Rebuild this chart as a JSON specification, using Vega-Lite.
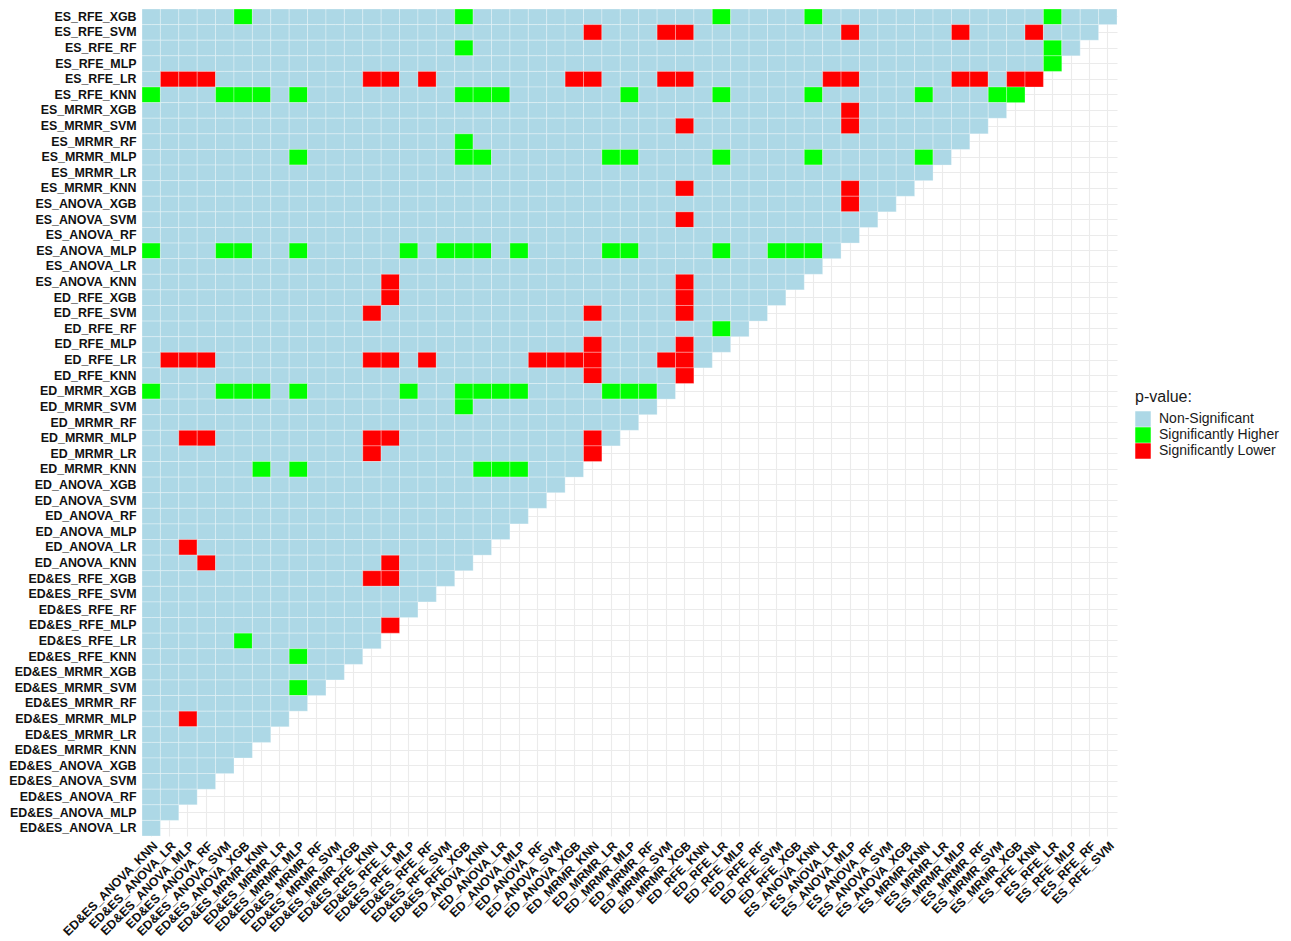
{"$schema":"https://vega.github.io/schema/vega-lite/v6.json","width":975,"height":827,"autosize":"none","padding":{"left":142,"top":9,"right":174,"bottom":105},"background":"white","config":{"view":{"stroke":null},"font":"Liberation Sans"},
"datasets":{
"models":[{"k":0,"name":"ED&ES_ANOVA_KNN"},{"k":1,"name":"ED&ES_ANOVA_LR"},{"k":2,"name":"ED&ES_ANOVA_MLP"},{"k":3,"name":"ED&ES_ANOVA_RF"},{"k":4,"name":"ED&ES_ANOVA_SVM"},{"k":5,"name":"ED&ES_ANOVA_XGB"},{"k":6,"name":"ED&ES_MRMR_KNN"},{"k":7,"name":"ED&ES_MRMR_LR"},{"k":8,"name":"ED&ES_MRMR_MLP"},{"k":9,"name":"ED&ES_MRMR_RF"},{"k":10,"name":"ED&ES_MRMR_SVM"},{"k":11,"name":"ED&ES_MRMR_XGB"},{"k":12,"name":"ED&ES_RFE_KNN"},{"k":13,"name":"ED&ES_RFE_LR"},{"k":14,"name":"ED&ES_RFE_MLP"},{"k":15,"name":"ED&ES_RFE_RF"},{"k":16,"name":"ED&ES_RFE_SVM"},{"k":17,"name":"ED&ES_RFE_XGB"},{"k":18,"name":"ED_ANOVA_KNN"},{"k":19,"name":"ED_ANOVA_LR"},{"k":20,"name":"ED_ANOVA_MLP"},{"k":21,"name":"ED_ANOVA_RF"},{"k":22,"name":"ED_ANOVA_SVM"},{"k":23,"name":"ED_ANOVA_XGB"},{"k":24,"name":"ED_MRMR_KNN"},{"k":25,"name":"ED_MRMR_LR"},{"k":26,"name":"ED_MRMR_MLP"},{"k":27,"name":"ED_MRMR_RF"},{"k":28,"name":"ED_MRMR_SVM"},{"k":29,"name":"ED_MRMR_XGB"},{"k":30,"name":"ED_RFE_KNN"},{"k":31,"name":"ED_RFE_LR"},{"k":32,"name":"ED_RFE_MLP"},{"k":33,"name":"ED_RFE_RF"},{"k":34,"name":"ED_RFE_SVM"},{"k":35,"name":"ED_RFE_XGB"},{"k":36,"name":"ES_ANOVA_KNN"},{"k":37,"name":"ES_ANOVA_LR"},{"k":38,"name":"ES_ANOVA_MLP"},{"k":39,"name":"ES_ANOVA_RF"},{"k":40,"name":"ES_ANOVA_SVM"},{"k":41,"name":"ES_ANOVA_XGB"},{"k":42,"name":"ES_MRMR_KNN"},{"k":43,"name":"ES_MRMR_LR"},{"k":44,"name":"ES_MRMR_MLP"},{"k":45,"name":"ES_MRMR_RF"},{"k":46,"name":"ES_MRMR_SVM"},{"k":47,"name":"ES_MRMR_XGB"},{"k":48,"name":"ES_RFE_KNN"},{"k":49,"name":"ES_RFE_LR"},{"k":50,"name":"ES_RFE_MLP"},{"k":51,"name":"ES_RFE_RF"},{"k":52,"name":"ES_RFE_SVM"},{"k":53,"name":"ES_RFE_XGB"}],
"levels":[{"p":"N","pvalue":"Non-Significant"},{"p":"H","pvalue":"Significantly Higher"},{"p":"L","pvalue":"Significantly Lower"}],
"cells":[
{"r":53,"c":0,"p":"N"},{"r":53,"c":1,"p":"N"},{"r":53,"c":2,"p":"N"},{"r":53,"c":3,"p":"N"},{"r":53,"c":4,"p":"N"},{"r":53,"c":5,"p":"H"},{"r":53,"c":6,"p":"N"},{"r":53,"c":7,"p":"N"},{"r":53,"c":8,"p":"N"},{"r":53,"c":9,"p":"N"},{"r":53,"c":10,"p":"N"},{"r":53,"c":11,"p":"N"},{"r":53,"c":12,"p":"N"},{"r":53,"c":13,"p":"N"},{"r":53,"c":14,"p":"N"},{"r":53,"c":15,"p":"N"},{"r":53,"c":16,"p":"N"},{"r":53,"c":17,"p":"H"},{"r":53,"c":18,"p":"N"},{"r":53,"c":19,"p":"N"},{"r":53,"c":20,"p":"N"},{"r":53,"c":21,"p":"N"},{"r":53,"c":22,"p":"N"},{"r":53,"c":23,"p":"N"},{"r":53,"c":24,"p":"N"},{"r":53,"c":25,"p":"N"},{"r":53,"c":26,"p":"N"},{"r":53,"c":27,"p":"N"},{"r":53,"c":28,"p":"N"},{"r":53,"c":29,"p":"N"},{"r":53,"c":30,"p":"N"},{"r":53,"c":31,"p":"H"},{"r":53,"c":32,"p":"N"},{"r":53,"c":33,"p":"N"},{"r":53,"c":34,"p":"N"},{"r":53,"c":35,"p":"N"},{"r":53,"c":36,"p":"H"},{"r":53,"c":37,"p":"N"},{"r":53,"c":38,"p":"N"},{"r":53,"c":39,"p":"N"},{"r":53,"c":40,"p":"N"},{"r":53,"c":41,"p":"N"},{"r":53,"c":42,"p":"N"},{"r":53,"c":43,"p":"N"},{"r":53,"c":44,"p":"N"},{"r":53,"c":45,"p":"N"},{"r":53,"c":46,"p":"N"},{"r":53,"c":47,"p":"N"},{"r":53,"c":48,"p":"N"},{"r":53,"c":49,"p":"H"},{"r":53,"c":50,"p":"N"},{"r":53,"c":51,"p":"N"},{"r":53,"c":52,"p":"N"},
{"r":52,"c":0,"p":"N"},{"r":52,"c":1,"p":"N"},{"r":52,"c":2,"p":"N"},{"r":52,"c":3,"p":"N"},{"r":52,"c":4,"p":"N"},{"r":52,"c":5,"p":"N"},{"r":52,"c":6,"p":"N"},{"r":52,"c":7,"p":"N"},{"r":52,"c":8,"p":"N"},{"r":52,"c":9,"p":"N"},{"r":52,"c":10,"p":"N"},{"r":52,"c":11,"p":"N"},{"r":52,"c":12,"p":"N"},{"r":52,"c":13,"p":"N"},{"r":52,"c":14,"p":"N"},{"r":52,"c":15,"p":"N"},{"r":52,"c":16,"p":"N"},{"r":52,"c":17,"p":"N"},{"r":52,"c":18,"p":"N"},{"r":52,"c":19,"p":"N"},{"r":52,"c":20,"p":"N"},{"r":52,"c":21,"p":"N"},{"r":52,"c":22,"p":"N"},{"r":52,"c":23,"p":"N"},{"r":52,"c":24,"p":"L"},{"r":52,"c":25,"p":"N"},{"r":52,"c":26,"p":"N"},{"r":52,"c":27,"p":"N"},{"r":52,"c":28,"p":"L"},{"r":52,"c":29,"p":"L"},{"r":52,"c":30,"p":"N"},{"r":52,"c":31,"p":"N"},{"r":52,"c":32,"p":"N"},{"r":52,"c":33,"p":"N"},{"r":52,"c":34,"p":"N"},{"r":52,"c":35,"p":"N"},{"r":52,"c":36,"p":"N"},{"r":52,"c":37,"p":"N"},{"r":52,"c":38,"p":"L"},{"r":52,"c":39,"p":"N"},{"r":52,"c":40,"p":"N"},{"r":52,"c":41,"p":"N"},{"r":52,"c":42,"p":"N"},{"r":52,"c":43,"p":"N"},{"r":52,"c":44,"p":"L"},{"r":52,"c":45,"p":"N"},{"r":52,"c":46,"p":"N"},{"r":52,"c":47,"p":"N"},{"r":52,"c":48,"p":"L"},{"r":52,"c":49,"p":"N"},{"r":52,"c":50,"p":"N"},{"r":52,"c":51,"p":"N"},
{"r":51,"c":0,"p":"N"},{"r":51,"c":1,"p":"N"},{"r":51,"c":2,"p":"N"},{"r":51,"c":3,"p":"N"},{"r":51,"c":4,"p":"N"},{"r":51,"c":5,"p":"N"},{"r":51,"c":6,"p":"N"},{"r":51,"c":7,"p":"N"},{"r":51,"c":8,"p":"N"},{"r":51,"c":9,"p":"N"},{"r":51,"c":10,"p":"N"},{"r":51,"c":11,"p":"N"},{"r":51,"c":12,"p":"N"},{"r":51,"c":13,"p":"N"},{"r":51,"c":14,"p":"N"},{"r":51,"c":15,"p":"N"},{"r":51,"c":16,"p":"N"},{"r":51,"c":17,"p":"H"},{"r":51,"c":18,"p":"N"},{"r":51,"c":19,"p":"N"},{"r":51,"c":20,"p":"N"},{"r":51,"c":21,"p":"N"},{"r":51,"c":22,"p":"N"},{"r":51,"c":23,"p":"N"},{"r":51,"c":24,"p":"N"},{"r":51,"c":25,"p":"N"},{"r":51,"c":26,"p":"N"},{"r":51,"c":27,"p":"N"},{"r":51,"c":28,"p":"N"},{"r":51,"c":29,"p":"N"},{"r":51,"c":30,"p":"N"},{"r":51,"c":31,"p":"N"},{"r":51,"c":32,"p":"N"},{"r":51,"c":33,"p":"N"},{"r":51,"c":34,"p":"N"},{"r":51,"c":35,"p":"N"},{"r":51,"c":36,"p":"N"},{"r":51,"c":37,"p":"N"},{"r":51,"c":38,"p":"N"},{"r":51,"c":39,"p":"N"},{"r":51,"c":40,"p":"N"},{"r":51,"c":41,"p":"N"},{"r":51,"c":42,"p":"N"},{"r":51,"c":43,"p":"N"},{"r":51,"c":44,"p":"N"},{"r":51,"c":45,"p":"N"},{"r":51,"c":46,"p":"N"},{"r":51,"c":47,"p":"N"},{"r":51,"c":48,"p":"N"},{"r":51,"c":49,"p":"H"},{"r":51,"c":50,"p":"N"},
{"r":50,"c":0,"p":"N"},{"r":50,"c":1,"p":"N"},{"r":50,"c":2,"p":"N"},{"r":50,"c":3,"p":"N"},{"r":50,"c":4,"p":"N"},{"r":50,"c":5,"p":"N"},{"r":50,"c":6,"p":"N"},{"r":50,"c":7,"p":"N"},{"r":50,"c":8,"p":"N"},{"r":50,"c":9,"p":"N"},{"r":50,"c":10,"p":"N"},{"r":50,"c":11,"p":"N"},{"r":50,"c":12,"p":"N"},{"r":50,"c":13,"p":"N"},{"r":50,"c":14,"p":"N"},{"r":50,"c":15,"p":"N"},{"r":50,"c":16,"p":"N"},{"r":50,"c":17,"p":"N"},{"r":50,"c":18,"p":"N"},{"r":50,"c":19,"p":"N"},{"r":50,"c":20,"p":"N"},{"r":50,"c":21,"p":"N"},{"r":50,"c":22,"p":"N"},{"r":50,"c":23,"p":"N"},{"r":50,"c":24,"p":"N"},{"r":50,"c":25,"p":"N"},{"r":50,"c":26,"p":"N"},{"r":50,"c":27,"p":"N"},{"r":50,"c":28,"p":"N"},{"r":50,"c":29,"p":"N"},{"r":50,"c":30,"p":"N"},{"r":50,"c":31,"p":"N"},{"r":50,"c":32,"p":"N"},{"r":50,"c":33,"p":"N"},{"r":50,"c":34,"p":"N"},{"r":50,"c":35,"p":"N"},{"r":50,"c":36,"p":"N"},{"r":50,"c":37,"p":"N"},{"r":50,"c":38,"p":"N"},{"r":50,"c":39,"p":"N"},{"r":50,"c":40,"p":"N"},{"r":50,"c":41,"p":"N"},{"r":50,"c":42,"p":"N"},{"r":50,"c":43,"p":"N"},{"r":50,"c":44,"p":"N"},{"r":50,"c":45,"p":"N"},{"r":50,"c":46,"p":"N"},{"r":50,"c":47,"p":"N"},{"r":50,"c":48,"p":"N"},{"r":50,"c":49,"p":"H"},
{"r":49,"c":0,"p":"N"},{"r":49,"c":1,"p":"L"},{"r":49,"c":2,"p":"L"},{"r":49,"c":3,"p":"L"},{"r":49,"c":4,"p":"N"},{"r":49,"c":5,"p":"N"},{"r":49,"c":6,"p":"N"},{"r":49,"c":7,"p":"N"},{"r":49,"c":8,"p":"N"},{"r":49,"c":9,"p":"N"},{"r":49,"c":10,"p":"N"},{"r":49,"c":11,"p":"N"},{"r":49,"c":12,"p":"L"},{"r":49,"c":13,"p":"L"},{"r":49,"c":14,"p":"N"},{"r":49,"c":15,"p":"L"},{"r":49,"c":16,"p":"N"},{"r":49,"c":17,"p":"N"},{"r":49,"c":18,"p":"N"},{"r":49,"c":19,"p":"N"},{"r":49,"c":20,"p":"N"},{"r":49,"c":21,"p":"N"},{"r":49,"c":22,"p":"N"},{"r":49,"c":23,"p":"L"},{"r":49,"c":24,"p":"L"},{"r":49,"c":25,"p":"N"},{"r":49,"c":26,"p":"N"},{"r":49,"c":27,"p":"N"},{"r":49,"c":28,"p":"L"},{"r":49,"c":29,"p":"L"},{"r":49,"c":30,"p":"N"},{"r":49,"c":31,"p":"N"},{"r":49,"c":32,"p":"N"},{"r":49,"c":33,"p":"N"},{"r":49,"c":34,"p":"N"},{"r":49,"c":35,"p":"N"},{"r":49,"c":36,"p":"N"},{"r":49,"c":37,"p":"L"},{"r":49,"c":38,"p":"L"},{"r":49,"c":39,"p":"N"},{"r":49,"c":40,"p":"N"},{"r":49,"c":41,"p":"N"},{"r":49,"c":42,"p":"N"},{"r":49,"c":43,"p":"N"},{"r":49,"c":44,"p":"L"},{"r":49,"c":45,"p":"L"},{"r":49,"c":46,"p":"N"},{"r":49,"c":47,"p":"L"},{"r":49,"c":48,"p":"L"},
{"r":48,"c":0,"p":"H"},{"r":48,"c":1,"p":"N"},{"r":48,"c":2,"p":"N"},{"r":48,"c":3,"p":"N"},{"r":48,"c":4,"p":"H"},{"r":48,"c":5,"p":"H"},{"r":48,"c":6,"p":"H"},{"r":48,"c":7,"p":"N"},{"r":48,"c":8,"p":"H"},{"r":48,"c":9,"p":"N"},{"r":48,"c":10,"p":"N"},{"r":48,"c":11,"p":"N"},{"r":48,"c":12,"p":"N"},{"r":48,"c":13,"p":"N"},{"r":48,"c":14,"p":"N"},{"r":48,"c":15,"p":"N"},{"r":48,"c":16,"p":"N"},{"r":48,"c":17,"p":"H"},{"r":48,"c":18,"p":"H"},{"r":48,"c":19,"p":"H"},{"r":48,"c":20,"p":"N"},{"r":48,"c":21,"p":"N"},{"r":48,"c":22,"p":"N"},{"r":48,"c":23,"p":"N"},{"r":48,"c":24,"p":"N"},{"r":48,"c":25,"p":"N"},{"r":48,"c":26,"p":"H"},{"r":48,"c":27,"p":"N"},{"r":48,"c":28,"p":"N"},{"r":48,"c":29,"p":"N"},{"r":48,"c":30,"p":"N"},{"r":48,"c":31,"p":"H"},{"r":48,"c":32,"p":"N"},{"r":48,"c":33,"p":"N"},{"r":48,"c":34,"p":"N"},{"r":48,"c":35,"p":"N"},{"r":48,"c":36,"p":"H"},{"r":48,"c":37,"p":"N"},{"r":48,"c":38,"p":"N"},{"r":48,"c":39,"p":"N"},{"r":48,"c":40,"p":"N"},{"r":48,"c":41,"p":"N"},{"r":48,"c":42,"p":"H"},{"r":48,"c":43,"p":"N"},{"r":48,"c":44,"p":"N"},{"r":48,"c":45,"p":"N"},{"r":48,"c":46,"p":"H"},{"r":48,"c":47,"p":"H"},
{"r":47,"c":0,"p":"N"},{"r":47,"c":1,"p":"N"},{"r":47,"c":2,"p":"N"},{"r":47,"c":3,"p":"N"},{"r":47,"c":4,"p":"N"},{"r":47,"c":5,"p":"N"},{"r":47,"c":6,"p":"N"},{"r":47,"c":7,"p":"N"},{"r":47,"c":8,"p":"N"},{"r":47,"c":9,"p":"N"},{"r":47,"c":10,"p":"N"},{"r":47,"c":11,"p":"N"},{"r":47,"c":12,"p":"N"},{"r":47,"c":13,"p":"N"},{"r":47,"c":14,"p":"N"},{"r":47,"c":15,"p":"N"},{"r":47,"c":16,"p":"N"},{"r":47,"c":17,"p":"N"},{"r":47,"c":18,"p":"N"},{"r":47,"c":19,"p":"N"},{"r":47,"c":20,"p":"N"},{"r":47,"c":21,"p":"N"},{"r":47,"c":22,"p":"N"},{"r":47,"c":23,"p":"N"},{"r":47,"c":24,"p":"N"},{"r":47,"c":25,"p":"N"},{"r":47,"c":26,"p":"N"},{"r":47,"c":27,"p":"N"},{"r":47,"c":28,"p":"N"},{"r":47,"c":29,"p":"N"},{"r":47,"c":30,"p":"N"},{"r":47,"c":31,"p":"N"},{"r":47,"c":32,"p":"N"},{"r":47,"c":33,"p":"N"},{"r":47,"c":34,"p":"N"},{"r":47,"c":35,"p":"N"},{"r":47,"c":36,"p":"N"},{"r":47,"c":37,"p":"N"},{"r":47,"c":38,"p":"L"},{"r":47,"c":39,"p":"N"},{"r":47,"c":40,"p":"N"},{"r":47,"c":41,"p":"N"},{"r":47,"c":42,"p":"N"},{"r":47,"c":43,"p":"N"},{"r":47,"c":44,"p":"N"},{"r":47,"c":45,"p":"N"},{"r":47,"c":46,"p":"N"},
{"r":46,"c":0,"p":"N"},{"r":46,"c":1,"p":"N"},{"r":46,"c":2,"p":"N"},{"r":46,"c":3,"p":"N"},{"r":46,"c":4,"p":"N"},{"r":46,"c":5,"p":"N"},{"r":46,"c":6,"p":"N"},{"r":46,"c":7,"p":"N"},{"r":46,"c":8,"p":"N"},{"r":46,"c":9,"p":"N"},{"r":46,"c":10,"p":"N"},{"r":46,"c":11,"p":"N"},{"r":46,"c":12,"p":"N"},{"r":46,"c":13,"p":"N"},{"r":46,"c":14,"p":"N"},{"r":46,"c":15,"p":"N"},{"r":46,"c":16,"p":"N"},{"r":46,"c":17,"p":"N"},{"r":46,"c":18,"p":"N"},{"r":46,"c":19,"p":"N"},{"r":46,"c":20,"p":"N"},{"r":46,"c":21,"p":"N"},{"r":46,"c":22,"p":"N"},{"r":46,"c":23,"p":"N"},{"r":46,"c":24,"p":"N"},{"r":46,"c":25,"p":"N"},{"r":46,"c":26,"p":"N"},{"r":46,"c":27,"p":"N"},{"r":46,"c":28,"p":"N"},{"r":46,"c":29,"p":"L"},{"r":46,"c":30,"p":"N"},{"r":46,"c":31,"p":"N"},{"r":46,"c":32,"p":"N"},{"r":46,"c":33,"p":"N"},{"r":46,"c":34,"p":"N"},{"r":46,"c":35,"p":"N"},{"r":46,"c":36,"p":"N"},{"r":46,"c":37,"p":"N"},{"r":46,"c":38,"p":"L"},{"r":46,"c":39,"p":"N"},{"r":46,"c":40,"p":"N"},{"r":46,"c":41,"p":"N"},{"r":46,"c":42,"p":"N"},{"r":46,"c":43,"p":"N"},{"r":46,"c":44,"p":"N"},{"r":46,"c":45,"p":"N"},
{"r":45,"c":0,"p":"N"},{"r":45,"c":1,"p":"N"},{"r":45,"c":2,"p":"N"},{"r":45,"c":3,"p":"N"},{"r":45,"c":4,"p":"N"},{"r":45,"c":5,"p":"N"},{"r":45,"c":6,"p":"N"},{"r":45,"c":7,"p":"N"},{"r":45,"c":8,"p":"N"},{"r":45,"c":9,"p":"N"},{"r":45,"c":10,"p":"N"},{"r":45,"c":11,"p":"N"},{"r":45,"c":12,"p":"N"},{"r":45,"c":13,"p":"N"},{"r":45,"c":14,"p":"N"},{"r":45,"c":15,"p":"N"},{"r":45,"c":16,"p":"N"},{"r":45,"c":17,"p":"H"},{"r":45,"c":18,"p":"N"},{"r":45,"c":19,"p":"N"},{"r":45,"c":20,"p":"N"},{"r":45,"c":21,"p":"N"},{"r":45,"c":22,"p":"N"},{"r":45,"c":23,"p":"N"},{"r":45,"c":24,"p":"N"},{"r":45,"c":25,"p":"N"},{"r":45,"c":26,"p":"N"},{"r":45,"c":27,"p":"N"},{"r":45,"c":28,"p":"N"},{"r":45,"c":29,"p":"N"},{"r":45,"c":30,"p":"N"},{"r":45,"c":31,"p":"N"},{"r":45,"c":32,"p":"N"},{"r":45,"c":33,"p":"N"},{"r":45,"c":34,"p":"N"},{"r":45,"c":35,"p":"N"},{"r":45,"c":36,"p":"N"},{"r":45,"c":37,"p":"N"},{"r":45,"c":38,"p":"N"},{"r":45,"c":39,"p":"N"},{"r":45,"c":40,"p":"N"},{"r":45,"c":41,"p":"N"},{"r":45,"c":42,"p":"N"},{"r":45,"c":43,"p":"N"},{"r":45,"c":44,"p":"N"},
{"r":44,"c":0,"p":"N"},{"r":44,"c":1,"p":"N"},{"r":44,"c":2,"p":"N"},{"r":44,"c":3,"p":"N"},{"r":44,"c":4,"p":"N"},{"r":44,"c":5,"p":"N"},{"r":44,"c":6,"p":"N"},{"r":44,"c":7,"p":"N"},{"r":44,"c":8,"p":"H"},{"r":44,"c":9,"p":"N"},{"r":44,"c":10,"p":"N"},{"r":44,"c":11,"p":"N"},{"r":44,"c":12,"p":"N"},{"r":44,"c":13,"p":"N"},{"r":44,"c":14,"p":"N"},{"r":44,"c":15,"p":"N"},{"r":44,"c":16,"p":"N"},{"r":44,"c":17,"p":"H"},{"r":44,"c":18,"p":"H"},{"r":44,"c":19,"p":"N"},{"r":44,"c":20,"p":"N"},{"r":44,"c":21,"p":"N"},{"r":44,"c":22,"p":"N"},{"r":44,"c":23,"p":"N"},{"r":44,"c":24,"p":"N"},{"r":44,"c":25,"p":"H"},{"r":44,"c":26,"p":"H"},{"r":44,"c":27,"p":"N"},{"r":44,"c":28,"p":"N"},{"r":44,"c":29,"p":"N"},{"r":44,"c":30,"p":"N"},{"r":44,"c":31,"p":"H"},{"r":44,"c":32,"p":"N"},{"r":44,"c":33,"p":"N"},{"r":44,"c":34,"p":"N"},{"r":44,"c":35,"p":"N"},{"r":44,"c":36,"p":"H"},{"r":44,"c":37,"p":"N"},{"r":44,"c":38,"p":"N"},{"r":44,"c":39,"p":"N"},{"r":44,"c":40,"p":"N"},{"r":44,"c":41,"p":"N"},{"r":44,"c":42,"p":"H"},{"r":44,"c":43,"p":"N"},
{"r":43,"c":0,"p":"N"},{"r":43,"c":1,"p":"N"},{"r":43,"c":2,"p":"N"},{"r":43,"c":3,"p":"N"},{"r":43,"c":4,"p":"N"},{"r":43,"c":5,"p":"N"},{"r":43,"c":6,"p":"N"},{"r":43,"c":7,"p":"N"},{"r":43,"c":8,"p":"N"},{"r":43,"c":9,"p":"N"},{"r":43,"c":10,"p":"N"},{"r":43,"c":11,"p":"N"},{"r":43,"c":12,"p":"N"},{"r":43,"c":13,"p":"N"},{"r":43,"c":14,"p":"N"},{"r":43,"c":15,"p":"N"},{"r":43,"c":16,"p":"N"},{"r":43,"c":17,"p":"N"},{"r":43,"c":18,"p":"N"},{"r":43,"c":19,"p":"N"},{"r":43,"c":20,"p":"N"},{"r":43,"c":21,"p":"N"},{"r":43,"c":22,"p":"N"},{"r":43,"c":23,"p":"N"},{"r":43,"c":24,"p":"N"},{"r":43,"c":25,"p":"N"},{"r":43,"c":26,"p":"N"},{"r":43,"c":27,"p":"N"},{"r":43,"c":28,"p":"N"},{"r":43,"c":29,"p":"N"},{"r":43,"c":30,"p":"N"},{"r":43,"c":31,"p":"N"},{"r":43,"c":32,"p":"N"},{"r":43,"c":33,"p":"N"},{"r":43,"c":34,"p":"N"},{"r":43,"c":35,"p":"N"},{"r":43,"c":36,"p":"N"},{"r":43,"c":37,"p":"N"},{"r":43,"c":38,"p":"N"},{"r":43,"c":39,"p":"N"},{"r":43,"c":40,"p":"N"},{"r":43,"c":41,"p":"N"},{"r":43,"c":42,"p":"N"},
{"r":42,"c":0,"p":"N"},{"r":42,"c":1,"p":"N"},{"r":42,"c":2,"p":"N"},{"r":42,"c":3,"p":"N"},{"r":42,"c":4,"p":"N"},{"r":42,"c":5,"p":"N"},{"r":42,"c":6,"p":"N"},{"r":42,"c":7,"p":"N"},{"r":42,"c":8,"p":"N"},{"r":42,"c":9,"p":"N"},{"r":42,"c":10,"p":"N"},{"r":42,"c":11,"p":"N"},{"r":42,"c":12,"p":"N"},{"r":42,"c":13,"p":"N"},{"r":42,"c":14,"p":"N"},{"r":42,"c":15,"p":"N"},{"r":42,"c":16,"p":"N"},{"r":42,"c":17,"p":"N"},{"r":42,"c":18,"p":"N"},{"r":42,"c":19,"p":"N"},{"r":42,"c":20,"p":"N"},{"r":42,"c":21,"p":"N"},{"r":42,"c":22,"p":"N"},{"r":42,"c":23,"p":"N"},{"r":42,"c":24,"p":"N"},{"r":42,"c":25,"p":"N"},{"r":42,"c":26,"p":"N"},{"r":42,"c":27,"p":"N"},{"r":42,"c":28,"p":"N"},{"r":42,"c":29,"p":"L"},{"r":42,"c":30,"p":"N"},{"r":42,"c":31,"p":"N"},{"r":42,"c":32,"p":"N"},{"r":42,"c":33,"p":"N"},{"r":42,"c":34,"p":"N"},{"r":42,"c":35,"p":"N"},{"r":42,"c":36,"p":"N"},{"r":42,"c":37,"p":"N"},{"r":42,"c":38,"p":"L"},{"r":42,"c":39,"p":"N"},{"r":42,"c":40,"p":"N"},{"r":42,"c":41,"p":"N"},
{"r":41,"c":0,"p":"N"},{"r":41,"c":1,"p":"N"},{"r":41,"c":2,"p":"N"},{"r":41,"c":3,"p":"N"},{"r":41,"c":4,"p":"N"},{"r":41,"c":5,"p":"N"},{"r":41,"c":6,"p":"N"},{"r":41,"c":7,"p":"N"},{"r":41,"c":8,"p":"N"},{"r":41,"c":9,"p":"N"},{"r":41,"c":10,"p":"N"},{"r":41,"c":11,"p":"N"},{"r":41,"c":12,"p":"N"},{"r":41,"c":13,"p":"N"},{"r":41,"c":14,"p":"N"},{"r":41,"c":15,"p":"N"},{"r":41,"c":16,"p":"N"},{"r":41,"c":17,"p":"N"},{"r":41,"c":18,"p":"N"},{"r":41,"c":19,"p":"N"},{"r":41,"c":20,"p":"N"},{"r":41,"c":21,"p":"N"},{"r":41,"c":22,"p":"N"},{"r":41,"c":23,"p":"N"},{"r":41,"c":24,"p":"N"},{"r":41,"c":25,"p":"N"},{"r":41,"c":26,"p":"N"},{"r":41,"c":27,"p":"N"},{"r":41,"c":28,"p":"N"},{"r":41,"c":29,"p":"N"},{"r":41,"c":30,"p":"N"},{"r":41,"c":31,"p":"N"},{"r":41,"c":32,"p":"N"},{"r":41,"c":33,"p":"N"},{"r":41,"c":34,"p":"N"},{"r":41,"c":35,"p":"N"},{"r":41,"c":36,"p":"N"},{"r":41,"c":37,"p":"N"},{"r":41,"c":38,"p":"L"},{"r":41,"c":39,"p":"N"},{"r":41,"c":40,"p":"N"},
{"r":40,"c":0,"p":"N"},{"r":40,"c":1,"p":"N"},{"r":40,"c":2,"p":"N"},{"r":40,"c":3,"p":"N"},{"r":40,"c":4,"p":"N"},{"r":40,"c":5,"p":"N"},{"r":40,"c":6,"p":"N"},{"r":40,"c":7,"p":"N"},{"r":40,"c":8,"p":"N"},{"r":40,"c":9,"p":"N"},{"r":40,"c":10,"p":"N"},{"r":40,"c":11,"p":"N"},{"r":40,"c":12,"p":"N"},{"r":40,"c":13,"p":"N"},{"r":40,"c":14,"p":"N"},{"r":40,"c":15,"p":"N"},{"r":40,"c":16,"p":"N"},{"r":40,"c":17,"p":"N"},{"r":40,"c":18,"p":"N"},{"r":40,"c":19,"p":"N"},{"r":40,"c":20,"p":"N"},{"r":40,"c":21,"p":"N"},{"r":40,"c":22,"p":"N"},{"r":40,"c":23,"p":"N"},{"r":40,"c":24,"p":"N"},{"r":40,"c":25,"p":"N"},{"r":40,"c":26,"p":"N"},{"r":40,"c":27,"p":"N"},{"r":40,"c":28,"p":"N"},{"r":40,"c":29,"p":"L"},{"r":40,"c":30,"p":"N"},{"r":40,"c":31,"p":"N"},{"r":40,"c":32,"p":"N"},{"r":40,"c":33,"p":"N"},{"r":40,"c":34,"p":"N"},{"r":40,"c":35,"p":"N"},{"r":40,"c":36,"p":"N"},{"r":40,"c":37,"p":"N"},{"r":40,"c":38,"p":"N"},{"r":40,"c":39,"p":"N"},
{"r":39,"c":0,"p":"N"},{"r":39,"c":1,"p":"N"},{"r":39,"c":2,"p":"N"},{"r":39,"c":3,"p":"N"},{"r":39,"c":4,"p":"N"},{"r":39,"c":5,"p":"N"},{"r":39,"c":6,"p":"N"},{"r":39,"c":7,"p":"N"},{"r":39,"c":8,"p":"N"},{"r":39,"c":9,"p":"N"},{"r":39,"c":10,"p":"N"},{"r":39,"c":11,"p":"N"},{"r":39,"c":12,"p":"N"},{"r":39,"c":13,"p":"N"},{"r":39,"c":14,"p":"N"},{"r":39,"c":15,"p":"N"},{"r":39,"c":16,"p":"N"},{"r":39,"c":17,"p":"N"},{"r":39,"c":18,"p":"N"},{"r":39,"c":19,"p":"N"},{"r":39,"c":20,"p":"N"},{"r":39,"c":21,"p":"N"},{"r":39,"c":22,"p":"N"},{"r":39,"c":23,"p":"N"},{"r":39,"c":24,"p":"N"},{"r":39,"c":25,"p":"N"},{"r":39,"c":26,"p":"N"},{"r":39,"c":27,"p":"N"},{"r":39,"c":28,"p":"N"},{"r":39,"c":29,"p":"N"},{"r":39,"c":30,"p":"N"},{"r":39,"c":31,"p":"N"},{"r":39,"c":32,"p":"N"},{"r":39,"c":33,"p":"N"},{"r":39,"c":34,"p":"N"},{"r":39,"c":35,"p":"N"},{"r":39,"c":36,"p":"N"},{"r":39,"c":37,"p":"N"},{"r":39,"c":38,"p":"N"},
{"r":38,"c":0,"p":"H"},{"r":38,"c":1,"p":"N"},{"r":38,"c":2,"p":"N"},{"r":38,"c":3,"p":"N"},{"r":38,"c":4,"p":"H"},{"r":38,"c":5,"p":"H"},{"r":38,"c":6,"p":"N"},{"r":38,"c":7,"p":"N"},{"r":38,"c":8,"p":"H"},{"r":38,"c":9,"p":"N"},{"r":38,"c":10,"p":"N"},{"r":38,"c":11,"p":"N"},{"r":38,"c":12,"p":"N"},{"r":38,"c":13,"p":"N"},{"r":38,"c":14,"p":"H"},{"r":38,"c":15,"p":"N"},{"r":38,"c":16,"p":"H"},{"r":38,"c":17,"p":"H"},{"r":38,"c":18,"p":"H"},{"r":38,"c":19,"p":"N"},{"r":38,"c":20,"p":"H"},{"r":38,"c":21,"p":"N"},{"r":38,"c":22,"p":"N"},{"r":38,"c":23,"p":"N"},{"r":38,"c":24,"p":"N"},{"r":38,"c":25,"p":"H"},{"r":38,"c":26,"p":"H"},{"r":38,"c":27,"p":"N"},{"r":38,"c":28,"p":"N"},{"r":38,"c":29,"p":"N"},{"r":38,"c":30,"p":"N"},{"r":38,"c":31,"p":"H"},{"r":38,"c":32,"p":"N"},{"r":38,"c":33,"p":"N"},{"r":38,"c":34,"p":"H"},{"r":38,"c":35,"p":"H"},{"r":38,"c":36,"p":"H"},{"r":38,"c":37,"p":"N"},
{"r":37,"c":0,"p":"N"},{"r":37,"c":1,"p":"N"},{"r":37,"c":2,"p":"N"},{"r":37,"c":3,"p":"N"},{"r":37,"c":4,"p":"N"},{"r":37,"c":5,"p":"N"},{"r":37,"c":6,"p":"N"},{"r":37,"c":7,"p":"N"},{"r":37,"c":8,"p":"N"},{"r":37,"c":9,"p":"N"},{"r":37,"c":10,"p":"N"},{"r":37,"c":11,"p":"N"},{"r":37,"c":12,"p":"N"},{"r":37,"c":13,"p":"N"},{"r":37,"c":14,"p":"N"},{"r":37,"c":15,"p":"N"},{"r":37,"c":16,"p":"N"},{"r":37,"c":17,"p":"N"},{"r":37,"c":18,"p":"N"},{"r":37,"c":19,"p":"N"},{"r":37,"c":20,"p":"N"},{"r":37,"c":21,"p":"N"},{"r":37,"c":22,"p":"N"},{"r":37,"c":23,"p":"N"},{"r":37,"c":24,"p":"N"},{"r":37,"c":25,"p":"N"},{"r":37,"c":26,"p":"N"},{"r":37,"c":27,"p":"N"},{"r":37,"c":28,"p":"N"},{"r":37,"c":29,"p":"N"},{"r":37,"c":30,"p":"N"},{"r":37,"c":31,"p":"N"},{"r":37,"c":32,"p":"N"},{"r":37,"c":33,"p":"N"},{"r":37,"c":34,"p":"N"},{"r":37,"c":35,"p":"N"},{"r":37,"c":36,"p":"N"},
{"r":36,"c":0,"p":"N"},{"r":36,"c":1,"p":"N"},{"r":36,"c":2,"p":"N"},{"r":36,"c":3,"p":"N"},{"r":36,"c":4,"p":"N"},{"r":36,"c":5,"p":"N"},{"r":36,"c":6,"p":"N"},{"r":36,"c":7,"p":"N"},{"r":36,"c":8,"p":"N"},{"r":36,"c":9,"p":"N"},{"r":36,"c":10,"p":"N"},{"r":36,"c":11,"p":"N"},{"r":36,"c":12,"p":"N"},{"r":36,"c":13,"p":"L"},{"r":36,"c":14,"p":"N"},{"r":36,"c":15,"p":"N"},{"r":36,"c":16,"p":"N"},{"r":36,"c":17,"p":"N"},{"r":36,"c":18,"p":"N"},{"r":36,"c":19,"p":"N"},{"r":36,"c":20,"p":"N"},{"r":36,"c":21,"p":"N"},{"r":36,"c":22,"p":"N"},{"r":36,"c":23,"p":"N"},{"r":36,"c":24,"p":"N"},{"r":36,"c":25,"p":"N"},{"r":36,"c":26,"p":"N"},{"r":36,"c":27,"p":"N"},{"r":36,"c":28,"p":"N"},{"r":36,"c":29,"p":"L"},{"r":36,"c":30,"p":"N"},{"r":36,"c":31,"p":"N"},{"r":36,"c":32,"p":"N"},{"r":36,"c":33,"p":"N"},{"r":36,"c":34,"p":"N"},{"r":36,"c":35,"p":"N"},
{"r":35,"c":0,"p":"N"},{"r":35,"c":1,"p":"N"},{"r":35,"c":2,"p":"N"},{"r":35,"c":3,"p":"N"},{"r":35,"c":4,"p":"N"},{"r":35,"c":5,"p":"N"},{"r":35,"c":6,"p":"N"},{"r":35,"c":7,"p":"N"},{"r":35,"c":8,"p":"N"},{"r":35,"c":9,"p":"N"},{"r":35,"c":10,"p":"N"},{"r":35,"c":11,"p":"N"},{"r":35,"c":12,"p":"N"},{"r":35,"c":13,"p":"L"},{"r":35,"c":14,"p":"N"},{"r":35,"c":15,"p":"N"},{"r":35,"c":16,"p":"N"},{"r":35,"c":17,"p":"N"},{"r":35,"c":18,"p":"N"},{"r":35,"c":19,"p":"N"},{"r":35,"c":20,"p":"N"},{"r":35,"c":21,"p":"N"},{"r":35,"c":22,"p":"N"},{"r":35,"c":23,"p":"N"},{"r":35,"c":24,"p":"N"},{"r":35,"c":25,"p":"N"},{"r":35,"c":26,"p":"N"},{"r":35,"c":27,"p":"N"},{"r":35,"c":28,"p":"N"},{"r":35,"c":29,"p":"L"},{"r":35,"c":30,"p":"N"},{"r":35,"c":31,"p":"N"},{"r":35,"c":32,"p":"N"},{"r":35,"c":33,"p":"N"},{"r":35,"c":34,"p":"N"},
{"r":34,"c":0,"p":"N"},{"r":34,"c":1,"p":"N"},{"r":34,"c":2,"p":"N"},{"r":34,"c":3,"p":"N"},{"r":34,"c":4,"p":"N"},{"r":34,"c":5,"p":"N"},{"r":34,"c":6,"p":"N"},{"r":34,"c":7,"p":"N"},{"r":34,"c":8,"p":"N"},{"r":34,"c":9,"p":"N"},{"r":34,"c":10,"p":"N"},{"r":34,"c":11,"p":"N"},{"r":34,"c":12,"p":"L"},{"r":34,"c":13,"p":"N"},{"r":34,"c":14,"p":"N"},{"r":34,"c":15,"p":"N"},{"r":34,"c":16,"p":"N"},{"r":34,"c":17,"p":"N"},{"r":34,"c":18,"p":"N"},{"r":34,"c":19,"p":"N"},{"r":34,"c":20,"p":"N"},{"r":34,"c":21,"p":"N"},{"r":34,"c":22,"p":"N"},{"r":34,"c":23,"p":"N"},{"r":34,"c":24,"p":"L"},{"r":34,"c":25,"p":"N"},{"r":34,"c":26,"p":"N"},{"r":34,"c":27,"p":"N"},{"r":34,"c":28,"p":"N"},{"r":34,"c":29,"p":"L"},{"r":34,"c":30,"p":"N"},{"r":34,"c":31,"p":"N"},{"r":34,"c":32,"p":"N"},{"r":34,"c":33,"p":"N"},
{"r":33,"c":0,"p":"N"},{"r":33,"c":1,"p":"N"},{"r":33,"c":2,"p":"N"},{"r":33,"c":3,"p":"N"},{"r":33,"c":4,"p":"N"},{"r":33,"c":5,"p":"N"},{"r":33,"c":6,"p":"N"},{"r":33,"c":7,"p":"N"},{"r":33,"c":8,"p":"N"},{"r":33,"c":9,"p":"N"},{"r":33,"c":10,"p":"N"},{"r":33,"c":11,"p":"N"},{"r":33,"c":12,"p":"N"},{"r":33,"c":13,"p":"N"},{"r":33,"c":14,"p":"N"},{"r":33,"c":15,"p":"N"},{"r":33,"c":16,"p":"N"},{"r":33,"c":17,"p":"N"},{"r":33,"c":18,"p":"N"},{"r":33,"c":19,"p":"N"},{"r":33,"c":20,"p":"N"},{"r":33,"c":21,"p":"N"},{"r":33,"c":22,"p":"N"},{"r":33,"c":23,"p":"N"},{"r":33,"c":24,"p":"N"},{"r":33,"c":25,"p":"N"},{"r":33,"c":26,"p":"N"},{"r":33,"c":27,"p":"N"},{"r":33,"c":28,"p":"N"},{"r":33,"c":29,"p":"N"},{"r":33,"c":30,"p":"N"},{"r":33,"c":31,"p":"H"},{"r":33,"c":32,"p":"N"},
{"r":32,"c":0,"p":"N"},{"r":32,"c":1,"p":"N"},{"r":32,"c":2,"p":"N"},{"r":32,"c":3,"p":"N"},{"r":32,"c":4,"p":"N"},{"r":32,"c":5,"p":"N"},{"r":32,"c":6,"p":"N"},{"r":32,"c":7,"p":"N"},{"r":32,"c":8,"p":"N"},{"r":32,"c":9,"p":"N"},{"r":32,"c":10,"p":"N"},{"r":32,"c":11,"p":"N"},{"r":32,"c":12,"p":"N"},{"r":32,"c":13,"p":"N"},{"r":32,"c":14,"p":"N"},{"r":32,"c":15,"p":"N"},{"r":32,"c":16,"p":"N"},{"r":32,"c":17,"p":"N"},{"r":32,"c":18,"p":"N"},{"r":32,"c":19,"p":"N"},{"r":32,"c":20,"p":"N"},{"r":32,"c":21,"p":"N"},{"r":32,"c":22,"p":"N"},{"r":32,"c":23,"p":"N"},{"r":32,"c":24,"p":"L"},{"r":32,"c":25,"p":"N"},{"r":32,"c":26,"p":"N"},{"r":32,"c":27,"p":"N"},{"r":32,"c":28,"p":"N"},{"r":32,"c":29,"p":"L"},{"r":32,"c":30,"p":"N"},{"r":32,"c":31,"p":"N"},
{"r":31,"c":0,"p":"N"},{"r":31,"c":1,"p":"L"},{"r":31,"c":2,"p":"L"},{"r":31,"c":3,"p":"L"},{"r":31,"c":4,"p":"N"},{"r":31,"c":5,"p":"N"},{"r":31,"c":6,"p":"N"},{"r":31,"c":7,"p":"N"},{"r":31,"c":8,"p":"N"},{"r":31,"c":9,"p":"N"},{"r":31,"c":10,"p":"N"},{"r":31,"c":11,"p":"N"},{"r":31,"c":12,"p":"L"},{"r":31,"c":13,"p":"L"},{"r":31,"c":14,"p":"N"},{"r":31,"c":15,"p":"L"},{"r":31,"c":16,"p":"N"},{"r":31,"c":17,"p":"N"},{"r":31,"c":18,"p":"N"},{"r":31,"c":19,"p":"N"},{"r":31,"c":20,"p":"N"},{"r":31,"c":21,"p":"L"},{"r":31,"c":22,"p":"L"},{"r":31,"c":23,"p":"L"},{"r":31,"c":24,"p":"L"},{"r":31,"c":25,"p":"N"},{"r":31,"c":26,"p":"N"},{"r":31,"c":27,"p":"N"},{"r":31,"c":28,"p":"L"},{"r":31,"c":29,"p":"L"},{"r":31,"c":30,"p":"N"},
{"r":30,"c":0,"p":"N"},{"r":30,"c":1,"p":"N"},{"r":30,"c":2,"p":"N"},{"r":30,"c":3,"p":"N"},{"r":30,"c":4,"p":"N"},{"r":30,"c":5,"p":"N"},{"r":30,"c":6,"p":"N"},{"r":30,"c":7,"p":"N"},{"r":30,"c":8,"p":"N"},{"r":30,"c":9,"p":"N"},{"r":30,"c":10,"p":"N"},{"r":30,"c":11,"p":"N"},{"r":30,"c":12,"p":"N"},{"r":30,"c":13,"p":"N"},{"r":30,"c":14,"p":"N"},{"r":30,"c":15,"p":"N"},{"r":30,"c":16,"p":"N"},{"r":30,"c":17,"p":"N"},{"r":30,"c":18,"p":"N"},{"r":30,"c":19,"p":"N"},{"r":30,"c":20,"p":"N"},{"r":30,"c":21,"p":"N"},{"r":30,"c":22,"p":"N"},{"r":30,"c":23,"p":"N"},{"r":30,"c":24,"p":"L"},{"r":30,"c":25,"p":"N"},{"r":30,"c":26,"p":"N"},{"r":30,"c":27,"p":"N"},{"r":30,"c":28,"p":"N"},{"r":30,"c":29,"p":"L"},
{"r":29,"c":0,"p":"H"},{"r":29,"c":1,"p":"N"},{"r":29,"c":2,"p":"N"},{"r":29,"c":3,"p":"N"},{"r":29,"c":4,"p":"H"},{"r":29,"c":5,"p":"H"},{"r":29,"c":6,"p":"H"},{"r":29,"c":7,"p":"N"},{"r":29,"c":8,"p":"H"},{"r":29,"c":9,"p":"N"},{"r":29,"c":10,"p":"N"},{"r":29,"c":11,"p":"N"},{"r":29,"c":12,"p":"N"},{"r":29,"c":13,"p":"N"},{"r":29,"c":14,"p":"H"},{"r":29,"c":15,"p":"N"},{"r":29,"c":16,"p":"N"},{"r":29,"c":17,"p":"H"},{"r":29,"c":18,"p":"H"},{"r":29,"c":19,"p":"H"},{"r":29,"c":20,"p":"H"},{"r":29,"c":21,"p":"N"},{"r":29,"c":22,"p":"N"},{"r":29,"c":23,"p":"N"},{"r":29,"c":24,"p":"N"},{"r":29,"c":25,"p":"H"},{"r":29,"c":26,"p":"H"},{"r":29,"c":27,"p":"H"},{"r":29,"c":28,"p":"N"},
{"r":28,"c":0,"p":"N"},{"r":28,"c":1,"p":"N"},{"r":28,"c":2,"p":"N"},{"r":28,"c":3,"p":"N"},{"r":28,"c":4,"p":"N"},{"r":28,"c":5,"p":"N"},{"r":28,"c":6,"p":"N"},{"r":28,"c":7,"p":"N"},{"r":28,"c":8,"p":"N"},{"r":28,"c":9,"p":"N"},{"r":28,"c":10,"p":"N"},{"r":28,"c":11,"p":"N"},{"r":28,"c":12,"p":"N"},{"r":28,"c":13,"p":"N"},{"r":28,"c":14,"p":"N"},{"r":28,"c":15,"p":"N"},{"r":28,"c":16,"p":"N"},{"r":28,"c":17,"p":"H"},{"r":28,"c":18,"p":"N"},{"r":28,"c":19,"p":"N"},{"r":28,"c":20,"p":"N"},{"r":28,"c":21,"p":"N"},{"r":28,"c":22,"p":"N"},{"r":28,"c":23,"p":"N"},{"r":28,"c":24,"p":"N"},{"r":28,"c":25,"p":"N"},{"r":28,"c":26,"p":"N"},{"r":28,"c":27,"p":"N"},
{"r":27,"c":0,"p":"N"},{"r":27,"c":1,"p":"N"},{"r":27,"c":2,"p":"N"},{"r":27,"c":3,"p":"N"},{"r":27,"c":4,"p":"N"},{"r":27,"c":5,"p":"N"},{"r":27,"c":6,"p":"N"},{"r":27,"c":7,"p":"N"},{"r":27,"c":8,"p":"N"},{"r":27,"c":9,"p":"N"},{"r":27,"c":10,"p":"N"},{"r":27,"c":11,"p":"N"},{"r":27,"c":12,"p":"N"},{"r":27,"c":13,"p":"N"},{"r":27,"c":14,"p":"N"},{"r":27,"c":15,"p":"N"},{"r":27,"c":16,"p":"N"},{"r":27,"c":17,"p":"N"},{"r":27,"c":18,"p":"N"},{"r":27,"c":19,"p":"N"},{"r":27,"c":20,"p":"N"},{"r":27,"c":21,"p":"N"},{"r":27,"c":22,"p":"N"},{"r":27,"c":23,"p":"N"},{"r":27,"c":24,"p":"N"},{"r":27,"c":25,"p":"N"},{"r":27,"c":26,"p":"N"},
{"r":26,"c":0,"p":"N"},{"r":26,"c":1,"p":"N"},{"r":26,"c":2,"p":"L"},{"r":26,"c":3,"p":"L"},{"r":26,"c":4,"p":"N"},{"r":26,"c":5,"p":"N"},{"r":26,"c":6,"p":"N"},{"r":26,"c":7,"p":"N"},{"r":26,"c":8,"p":"N"},{"r":26,"c":9,"p":"N"},{"r":26,"c":10,"p":"N"},{"r":26,"c":11,"p":"N"},{"r":26,"c":12,"p":"L"},{"r":26,"c":13,"p":"L"},{"r":26,"c":14,"p":"N"},{"r":26,"c":15,"p":"N"},{"r":26,"c":16,"p":"N"},{"r":26,"c":17,"p":"N"},{"r":26,"c":18,"p":"N"},{"r":26,"c":19,"p":"N"},{"r":26,"c":20,"p":"N"},{"r":26,"c":21,"p":"N"},{"r":26,"c":22,"p":"N"},{"r":26,"c":23,"p":"N"},{"r":26,"c":24,"p":"L"},{"r":26,"c":25,"p":"N"},
{"r":25,"c":0,"p":"N"},{"r":25,"c":1,"p":"N"},{"r":25,"c":2,"p":"N"},{"r":25,"c":3,"p":"N"},{"r":25,"c":4,"p":"N"},{"r":25,"c":5,"p":"N"},{"r":25,"c":6,"p":"N"},{"r":25,"c":7,"p":"N"},{"r":25,"c":8,"p":"N"},{"r":25,"c":9,"p":"N"},{"r":25,"c":10,"p":"N"},{"r":25,"c":11,"p":"N"},{"r":25,"c":12,"p":"L"},{"r":25,"c":13,"p":"N"},{"r":25,"c":14,"p":"N"},{"r":25,"c":15,"p":"N"},{"r":25,"c":16,"p":"N"},{"r":25,"c":17,"p":"N"},{"r":25,"c":18,"p":"N"},{"r":25,"c":19,"p":"N"},{"r":25,"c":20,"p":"N"},{"r":25,"c":21,"p":"N"},{"r":25,"c":22,"p":"N"},{"r":25,"c":23,"p":"N"},{"r":25,"c":24,"p":"L"},
{"r":24,"c":0,"p":"N"},{"r":24,"c":1,"p":"N"},{"r":24,"c":2,"p":"N"},{"r":24,"c":3,"p":"N"},{"r":24,"c":4,"p":"N"},{"r":24,"c":5,"p":"N"},{"r":24,"c":6,"p":"H"},{"r":24,"c":7,"p":"N"},{"r":24,"c":8,"p":"H"},{"r":24,"c":9,"p":"N"},{"r":24,"c":10,"p":"N"},{"r":24,"c":11,"p":"N"},{"r":24,"c":12,"p":"N"},{"r":24,"c":13,"p":"N"},{"r":24,"c":14,"p":"N"},{"r":24,"c":15,"p":"N"},{"r":24,"c":16,"p":"N"},{"r":24,"c":17,"p":"N"},{"r":24,"c":18,"p":"H"},{"r":24,"c":19,"p":"H"},{"r":24,"c":20,"p":"H"},{"r":24,"c":21,"p":"N"},{"r":24,"c":22,"p":"N"},{"r":24,"c":23,"p":"N"},
{"r":23,"c":0,"p":"N"},{"r":23,"c":1,"p":"N"},{"r":23,"c":2,"p":"N"},{"r":23,"c":3,"p":"N"},{"r":23,"c":4,"p":"N"},{"r":23,"c":5,"p":"N"},{"r":23,"c":6,"p":"N"},{"r":23,"c":7,"p":"N"},{"r":23,"c":8,"p":"N"},{"r":23,"c":9,"p":"N"},{"r":23,"c":10,"p":"N"},{"r":23,"c":11,"p":"N"},{"r":23,"c":12,"p":"N"},{"r":23,"c":13,"p":"N"},{"r":23,"c":14,"p":"N"},{"r":23,"c":15,"p":"N"},{"r":23,"c":16,"p":"N"},{"r":23,"c":17,"p":"N"},{"r":23,"c":18,"p":"N"},{"r":23,"c":19,"p":"N"},{"r":23,"c":20,"p":"N"},{"r":23,"c":21,"p":"N"},{"r":23,"c":22,"p":"N"},
{"r":22,"c":0,"p":"N"},{"r":22,"c":1,"p":"N"},{"r":22,"c":2,"p":"N"},{"r":22,"c":3,"p":"N"},{"r":22,"c":4,"p":"N"},{"r":22,"c":5,"p":"N"},{"r":22,"c":6,"p":"N"},{"r":22,"c":7,"p":"N"},{"r":22,"c":8,"p":"N"},{"r":22,"c":9,"p":"N"},{"r":22,"c":10,"p":"N"},{"r":22,"c":11,"p":"N"},{"r":22,"c":12,"p":"N"},{"r":22,"c":13,"p":"N"},{"r":22,"c":14,"p":"N"},{"r":22,"c":15,"p":"N"},{"r":22,"c":16,"p":"N"},{"r":22,"c":17,"p":"N"},{"r":22,"c":18,"p":"N"},{"r":22,"c":19,"p":"N"},{"r":22,"c":20,"p":"N"},{"r":22,"c":21,"p":"N"},
{"r":21,"c":0,"p":"N"},{"r":21,"c":1,"p":"N"},{"r":21,"c":2,"p":"N"},{"r":21,"c":3,"p":"N"},{"r":21,"c":4,"p":"N"},{"r":21,"c":5,"p":"N"},{"r":21,"c":6,"p":"N"},{"r":21,"c":7,"p":"N"},{"r":21,"c":8,"p":"N"},{"r":21,"c":9,"p":"N"},{"r":21,"c":10,"p":"N"},{"r":21,"c":11,"p":"N"},{"r":21,"c":12,"p":"N"},{"r":21,"c":13,"p":"N"},{"r":21,"c":14,"p":"N"},{"r":21,"c":15,"p":"N"},{"r":21,"c":16,"p":"N"},{"r":21,"c":17,"p":"N"},{"r":21,"c":18,"p":"N"},{"r":21,"c":19,"p":"N"},{"r":21,"c":20,"p":"N"},
{"r":20,"c":0,"p":"N"},{"r":20,"c":1,"p":"N"},{"r":20,"c":2,"p":"N"},{"r":20,"c":3,"p":"N"},{"r":20,"c":4,"p":"N"},{"r":20,"c":5,"p":"N"},{"r":20,"c":6,"p":"N"},{"r":20,"c":7,"p":"N"},{"r":20,"c":8,"p":"N"},{"r":20,"c":9,"p":"N"},{"r":20,"c":10,"p":"N"},{"r":20,"c":11,"p":"N"},{"r":20,"c":12,"p":"N"},{"r":20,"c":13,"p":"N"},{"r":20,"c":14,"p":"N"},{"r":20,"c":15,"p":"N"},{"r":20,"c":16,"p":"N"},{"r":20,"c":17,"p":"N"},{"r":20,"c":18,"p":"N"},{"r":20,"c":19,"p":"N"},
{"r":19,"c":0,"p":"N"},{"r":19,"c":1,"p":"N"},{"r":19,"c":2,"p":"L"},{"r":19,"c":3,"p":"N"},{"r":19,"c":4,"p":"N"},{"r":19,"c":5,"p":"N"},{"r":19,"c":6,"p":"N"},{"r":19,"c":7,"p":"N"},{"r":19,"c":8,"p":"N"},{"r":19,"c":9,"p":"N"},{"r":19,"c":10,"p":"N"},{"r":19,"c":11,"p":"N"},{"r":19,"c":12,"p":"N"},{"r":19,"c":13,"p":"N"},{"r":19,"c":14,"p":"N"},{"r":19,"c":15,"p":"N"},{"r":19,"c":16,"p":"N"},{"r":19,"c":17,"p":"N"},{"r":19,"c":18,"p":"N"},
{"r":18,"c":0,"p":"N"},{"r":18,"c":1,"p":"N"},{"r":18,"c":2,"p":"N"},{"r":18,"c":3,"p":"L"},{"r":18,"c":4,"p":"N"},{"r":18,"c":5,"p":"N"},{"r":18,"c":6,"p":"N"},{"r":18,"c":7,"p":"N"},{"r":18,"c":8,"p":"N"},{"r":18,"c":9,"p":"N"},{"r":18,"c":10,"p":"N"},{"r":18,"c":11,"p":"N"},{"r":18,"c":12,"p":"N"},{"r":18,"c":13,"p":"L"},{"r":18,"c":14,"p":"N"},{"r":18,"c":15,"p":"N"},{"r":18,"c":16,"p":"N"},{"r":18,"c":17,"p":"N"},
{"r":17,"c":0,"p":"N"},{"r":17,"c":1,"p":"N"},{"r":17,"c":2,"p":"N"},{"r":17,"c":3,"p":"N"},{"r":17,"c":4,"p":"N"},{"r":17,"c":5,"p":"N"},{"r":17,"c":6,"p":"N"},{"r":17,"c":7,"p":"N"},{"r":17,"c":8,"p":"N"},{"r":17,"c":9,"p":"N"},{"r":17,"c":10,"p":"N"},{"r":17,"c":11,"p":"N"},{"r":17,"c":12,"p":"L"},{"r":17,"c":13,"p":"L"},{"r":17,"c":14,"p":"N"},{"r":17,"c":15,"p":"N"},{"r":17,"c":16,"p":"N"},
{"r":16,"c":0,"p":"N"},{"r":16,"c":1,"p":"N"},{"r":16,"c":2,"p":"N"},{"r":16,"c":3,"p":"N"},{"r":16,"c":4,"p":"N"},{"r":16,"c":5,"p":"N"},{"r":16,"c":6,"p":"N"},{"r":16,"c":7,"p":"N"},{"r":16,"c":8,"p":"N"},{"r":16,"c":9,"p":"N"},{"r":16,"c":10,"p":"N"},{"r":16,"c":11,"p":"N"},{"r":16,"c":12,"p":"N"},{"r":16,"c":13,"p":"N"},{"r":16,"c":14,"p":"N"},{"r":16,"c":15,"p":"N"},
{"r":15,"c":0,"p":"N"},{"r":15,"c":1,"p":"N"},{"r":15,"c":2,"p":"N"},{"r":15,"c":3,"p":"N"},{"r":15,"c":4,"p":"N"},{"r":15,"c":5,"p":"N"},{"r":15,"c":6,"p":"N"},{"r":15,"c":7,"p":"N"},{"r":15,"c":8,"p":"N"},{"r":15,"c":9,"p":"N"},{"r":15,"c":10,"p":"N"},{"r":15,"c":11,"p":"N"},{"r":15,"c":12,"p":"N"},{"r":15,"c":13,"p":"N"},{"r":15,"c":14,"p":"N"},
{"r":14,"c":0,"p":"N"},{"r":14,"c":1,"p":"N"},{"r":14,"c":2,"p":"N"},{"r":14,"c":3,"p":"N"},{"r":14,"c":4,"p":"N"},{"r":14,"c":5,"p":"N"},{"r":14,"c":6,"p":"N"},{"r":14,"c":7,"p":"N"},{"r":14,"c":8,"p":"N"},{"r":14,"c":9,"p":"N"},{"r":14,"c":10,"p":"N"},{"r":14,"c":11,"p":"N"},{"r":14,"c":12,"p":"N"},{"r":14,"c":13,"p":"L"},
{"r":13,"c":0,"p":"N"},{"r":13,"c":1,"p":"N"},{"r":13,"c":2,"p":"N"},{"r":13,"c":3,"p":"N"},{"r":13,"c":4,"p":"N"},{"r":13,"c":5,"p":"H"},{"r":13,"c":6,"p":"N"},{"r":13,"c":7,"p":"N"},{"r":13,"c":8,"p":"N"},{"r":13,"c":9,"p":"N"},{"r":13,"c":10,"p":"N"},{"r":13,"c":11,"p":"N"},{"r":13,"c":12,"p":"N"},
{"r":12,"c":0,"p":"N"},{"r":12,"c":1,"p":"N"},{"r":12,"c":2,"p":"N"},{"r":12,"c":3,"p":"N"},{"r":12,"c":4,"p":"N"},{"r":12,"c":5,"p":"N"},{"r":12,"c":6,"p":"N"},{"r":12,"c":7,"p":"N"},{"r":12,"c":8,"p":"H"},{"r":12,"c":9,"p":"N"},{"r":12,"c":10,"p":"N"},{"r":12,"c":11,"p":"N"},
{"r":11,"c":0,"p":"N"},{"r":11,"c":1,"p":"N"},{"r":11,"c":2,"p":"N"},{"r":11,"c":3,"p":"N"},{"r":11,"c":4,"p":"N"},{"r":11,"c":5,"p":"N"},{"r":11,"c":6,"p":"N"},{"r":11,"c":7,"p":"N"},{"r":11,"c":8,"p":"N"},{"r":11,"c":9,"p":"N"},{"r":11,"c":10,"p":"N"},
{"r":10,"c":0,"p":"N"},{"r":10,"c":1,"p":"N"},{"r":10,"c":2,"p":"N"},{"r":10,"c":3,"p":"N"},{"r":10,"c":4,"p":"N"},{"r":10,"c":5,"p":"N"},{"r":10,"c":6,"p":"N"},{"r":10,"c":7,"p":"N"},{"r":10,"c":8,"p":"H"},{"r":10,"c":9,"p":"N"},
{"r":9,"c":0,"p":"N"},{"r":9,"c":1,"p":"N"},{"r":9,"c":2,"p":"N"},{"r":9,"c":3,"p":"N"},{"r":9,"c":4,"p":"N"},{"r":9,"c":5,"p":"N"},{"r":9,"c":6,"p":"N"},{"r":9,"c":7,"p":"N"},{"r":9,"c":8,"p":"N"},
{"r":8,"c":0,"p":"N"},{"r":8,"c":1,"p":"N"},{"r":8,"c":2,"p":"L"},{"r":8,"c":3,"p":"N"},{"r":8,"c":4,"p":"N"},{"r":8,"c":5,"p":"N"},{"r":8,"c":6,"p":"N"},{"r":8,"c":7,"p":"N"},
{"r":7,"c":0,"p":"N"},{"r":7,"c":1,"p":"N"},{"r":7,"c":2,"p":"N"},{"r":7,"c":3,"p":"N"},{"r":7,"c":4,"p":"N"},{"r":7,"c":5,"p":"N"},{"r":7,"c":6,"p":"N"},
{"r":6,"c":0,"p":"N"},{"r":6,"c":1,"p":"N"},{"r":6,"c":2,"p":"N"},{"r":6,"c":3,"p":"N"},{"r":6,"c":4,"p":"N"},{"r":6,"c":5,"p":"N"},
{"r":5,"c":0,"p":"N"},{"r":5,"c":1,"p":"N"},{"r":5,"c":2,"p":"N"},{"r":5,"c":3,"p":"N"},{"r":5,"c":4,"p":"N"},
{"r":4,"c":0,"p":"N"},{"r":4,"c":1,"p":"N"},{"r":4,"c":2,"p":"N"},{"r":4,"c":3,"p":"N"},
{"r":3,"c":0,"p":"N"},{"r":3,"c":1,"p":"N"},{"r":3,"c":2,"p":"N"},
{"r":2,"c":0,"p":"N"},{"r":2,"c":1,"p":"N"},
{"r":1,"c":0,"p":"N"}
]},
"data":{"name":"cells"},
"transform":[
{"lookup":"r","from":{"data":{"name":"models"},"key":"k","fields":["name"]},"as":["row"]},
{"lookup":"c","from":{"data":{"name":"models"},"key":"k","fields":["name"]},"as":["col"]},
{"lookup":"p","from":{"data":{"name":"levels"},"key":"p","fields":["pvalue"]}}
],
"mark":{"type":"rect","stroke":"#FFFFFF","strokeWidth":0.6,"strokeOpacity":0.5},
"encoding":{
"x":{"field":"col","type":"nominal","sort":{"field":"c","op":"min","order":"ascending"},"scale":{"paddingInner":0,"paddingOuter":0},
"axis":{"title":null,"orient":"bottom","zindex":0,"labelAngle":-45,"labelAlign":"right","labelBaseline":"top","labelFont":"Liberation Sans","labelFontSize":12.4,"labelFontWeight":"bold","labelColor":"#111111","labelPadding":3,"ticks":false,"tickSize":0,"domain":false,"grid":true,"gridColor":"#EBEBEB","gridWidth":1.1,"bandPosition":0.5,"labelOverlap":false}},
"y":{"field":"row","type":"nominal","sort":{"field":"r","op":"min","order":"descending"},"scale":{"paddingInner":0,"paddingOuter":0},
"axis":{"title":null,"zindex":0,"labelFont":"Liberation Sans","labelFontSize":12.4,"labelFontWeight":"bold","labelColor":"#111111","labelPadding":6,"ticks":false,"tickSize":0,"domain":false,"grid":true,"gridColor":"#EBEBEB","gridWidth":1.1,"bandPosition":0.5,"labelOverlap":false}},
"color":{"field":"pvalue","type":"nominal","scale":{"domain":["Non-Significant","Significantly Higher","Significantly Lower"],"range":["#ADD8E6","#00FF00","#FF0000"]},
"legend":{"title":"p-value:","orient":"none","legendX":993,"legendY":380,"titleFont":"Liberation Sans","titleFontSize":16,"titleFontWeight":"normal","titleColor":"#1A1A1A","titlePadding":6,"labelFont":"Liberation Sans","labelFontSize":14,"labelColor":"#1A1A1A","symbolType":"square","symbolSize":240,"symbolStrokeWidth":0,"symbolOpacity":1,"rowPadding":0,"labelOffset":8,"padding":0}}
}
}
